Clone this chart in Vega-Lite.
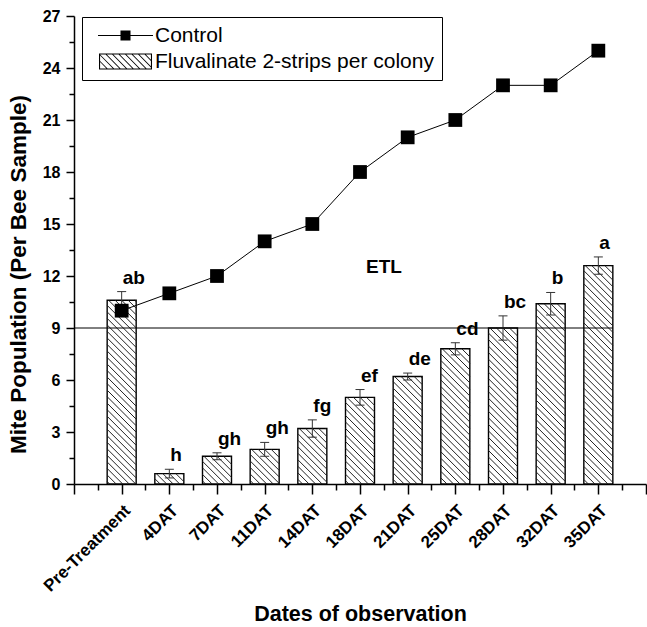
{
  "$schema": "https://vega.github.io/schema/vega-lite/v6.json",
  "width": 572,
  "height": 468,
  "autosize": "none",
  "padding": {"left": 74, "top": 16, "right": 1, "bottom": 143},
  "background": "white",
  "config": {
    "view": {"stroke": null},
    "font": "Liberation Sans",
    "axis": {"grid": false, "domainColor": "black", "tickColor": "black", "labelColor": "black", "titleColor": "black", "labelFont": "Liberation Sans", "titleFont": "Liberation Sans"}
  },
  "datasets": {
    "treatment": [
      {"date": "Pre-Treatment", "mean": 10.6, "lower": 10.1, "upper": 11.1, "letter": "ab"},
      {"date": "4DAT", "mean": 0.6, "lower": 0.35, "upper": 0.85, "letter": "h"},
      {"date": "7DAT", "mean": 1.6, "lower": 1.4, "upper": 1.8, "letter": "gh"},
      {"date": "11DAT", "mean": 2.0, "lower": 1.6, "upper": 2.4, "letter": "gh"},
      {"date": "14DAT", "mean": 3.2, "lower": 2.7, "upper": 3.7, "letter": "fg"},
      {"date": "18DAT", "mean": 5.0, "lower": 4.55, "upper": 5.45, "letter": "ef"},
      {"date": "21DAT", "mean": 6.2, "lower": 6.0, "upper": 6.4, "letter": "de"},
      {"date": "25DAT", "mean": 7.8, "lower": 7.45, "upper": 8.15, "letter": "cd"},
      {"date": "28DAT", "mean": 9.0, "lower": 8.3, "upper": 9.7, "letter": "bc"},
      {"date": "32DAT", "mean": 10.4, "lower": 9.75, "upper": 11.05, "letter": "b"},
      {"date": "35DAT", "mean": 12.6, "lower": 12.1, "upper": 13.1, "letter": "a"}
    ],
    "control": [
      {"date": "Pre-Treatment", "value": 10, "series": "Control"},
      {"date": "4DAT", "value": 11, "series": "Control"},
      {"date": "7DAT", "value": 12, "series": "Control"},
      {"date": "11DAT", "value": 14, "series": "Control"},
      {"date": "14DAT", "value": 15, "series": "Control"},
      {"date": "18DAT", "value": 18, "series": "Control"},
      {"date": "21DAT", "value": 20, "series": "Control"},
      {"date": "25DAT", "value": 21, "series": "Control"},
      {"date": "28DAT", "value": 23, "series": "Control"},
      {"date": "32DAT", "value": 23, "series": "Control"},
      {"date": "35DAT", "value": 25, "series": "Control"}
    ]
  },
  "layer": [
    {
      "data": {"name": "control"},
      "mark": {"type": "point", "fill": "black", "stroke": "black", "strokeWidth": 1, "opacity": 0},
      "encoding": {
        "x": {"field": "date", "type": "ordinal", "axis": null,
          "scale": {"type": "point", "domain": [" ", "Pre-Treatment", "4DAT", "7DAT", "11DAT", "14DAT", "18DAT", "21DAT", "25DAT", "28DAT", "32DAT", "35DAT", "-"], "padding": 0}},
        "y": {"field": "value", "type": "quantitative", "axis": null, "scale": {"domain": [0, 27], "nice": false, "zero": true}},
        "shape": {"field": "series", "type": "nominal",
          "scale": {"domain": ["Control", "Fluvalinate 2-strips per colony"],
            "range": ["M-3.235,-0.06L3.235,-0.06L3.235,0.06L-3.235,0.06ZM-0.59,-0.59L0.59,-0.59L0.59,0.59L-0.59,0.59Z",
              "M-3.12,-0.94L3.12,-0.94L3.12,0.94L-3.12,0.94ZM-2.99,-0.81L-2.99,0.81L2.99,0.81L2.99,-0.81ZM-2.99,0.07L-2.25,0.81L-2.11,0.81L-2.99,-0.07ZM-2.99,-0.695L-1.485,0.81L-1.345,0.81L-2.99,-0.835ZM-2.34,-0.81L-0.72,0.81L-0.58,0.81L-2.2,-0.81ZM-1.575,-0.81L0.045,0.81L0.185,0.81L-1.435,-0.81ZM-0.81,-0.81L0.81,0.81L0.95,0.81L-0.67,-0.81ZM-0.045,-0.81L1.575,0.81L1.715,0.81L0.095,-0.81ZM0.72,-0.81L2.34,0.81L2.48,0.81L0.86,-0.81ZM1.485,-0.81L2.99,0.695L2.99,0.555L1.625,-0.81ZM2.25,-0.81L2.99,-0.07L2.99,-0.21L2.39,-0.81Z"]},
          "legend": {"title": null, "orient": "none", "legendX": 8, "legendY": 1, "padding": 8,
            "strokeColor": "black", "symbolSize": 289, "symbolStrokeWidth": 1, "symbolOpacity": 1,
            "symbolFillColor": "black", "symbolStrokeColor": "black",
            "symbolOffset": 25, "labelOffset": 19, "rowPadding": 4,
            "labelFontSize": 21, "labelFont": "Liberation Sans", "labelColor": "black", "labelLimit": 600,
            "encode": {
              "legend": {"update": {"stroke": {"value": "black"}, "strokeWidth": {"value": 1.3}, "width": {"value": 384}}}}}}
      }
    },
    {
      "data": {"name": "treatment"},
      "mark": {"type": "bar", "size": 29, "fill": "white", "stroke": "black", "strokeWidth": 1.4},
      "encoding": {
        "x": {"field": "date", "type": "ordinal",
          "scale": {"type": "point", "domain": [" ", "Pre-Treatment", "4DAT", "7DAT", "11DAT", "14DAT", "18DAT", "21DAT", "25DAT", "28DAT", "32DAT", "35DAT", "-"], "padding": 0},
          "axis": {"orient": "bottom", "title": "Dates of observation", "titleFontSize": 21.5, "titleFontWeight": "bold", "titleBaseline": "alphabetic", "titleY": 136,
            "labelAngle": -45, "labelAlign": "right", "labelBaseline": "top", "labelFontSize": 17, "labelFontWeight": "bold", "labelPadding": 8, "labelOverlap": false,
            "tickSize": 10, "tickWidth": 1.5, "domainWidth": 1.5}},
        "y": {"field": "mean", "type": "quantitative",
          "scale": {"domain": [0, 27], "nice": false, "zero": true},
          "axis": {"orient": "left", "title": "Mite Population (Per Bee Sample)", "titleFontSize": 22.5, "titleFontWeight": "bold",
            "titleX": -56, "titleY": 258, "titleAngle": 270, "titleAlign": "center", "titleBaseline": "middle",
            "values": [0, 3, 6, 9, 12, 15, 18, 21, 24, 27], "labelFontSize": 16, "labelFontWeight": "bold", "labelPadding": 6,
            "tickSize": 8, "tickWidth": 1.5, "domainWidth": 1.5}}
      }
    },
    {
      "data": {"name": "treatment"},
      "mark": {"type": "point", "shape": "M0.9,0L1,0.1M0.45,0L1,0.55M0,0L1,1M-0.45,0L1,1.45M-0.9,0L1,1.9M-1,0.35L1,2.35M-1,0.8L1,2.8M-1,1.25L1,3.25M-1,1.7L1,3.7M-1,2.15L1,4.15M-1,2.6L1,4.6M-1,3.05L1,5.05M-1,3.5L1,5.5M-1,3.95L1,5.95M-1,4.4L1,6.4M-1,4.85L1,6.85M-1,5.3L1,7.3M-1,5.75L1,7.75M-1,6.2L1,8.2M-1,6.65L1,8.65M-1,7.1L1,9.1M-1,7.55L1,9.55M-1,8L1,10M-1,8.45L1,10.45M-1,8.9L1,10.9M-1,9.35L1,11.35M-1,9.8L1,11.8M-1,10.25L1,12.25M-1,10.7L1,12.7M-1,11.15L1,13.15M-1,11.6L1,13.6M-1,12.05L1,14.05M-1,12.5L1,14.5M-1,12.95L1,14.95M-1,13.4L1,15.4M-1,13.85L1,15.85M-1,14.3L1,16.3M-1,14.75L1,16.75",
        "size": 841, "filled": false, "stroke": "#222222", "strokeWidth": 1, "opacity": 1, "clip": true},
      "encoding": {
        "x": {"field": "date", "type": "ordinal",
          "scale": {"type": "point", "domain": [" ", "Pre-Treatment", "4DAT", "7DAT", "11DAT", "14DAT", "18DAT", "21DAT", "25DAT", "28DAT", "32DAT", "35DAT", "-"], "padding": 0},
          "axis": {"orient": "bottom", "title": null, "labels": false, "domain": false, "tickSize": 6, "tickWidth": 1.5, "tickOffset": 23.83}},
        "y": {"field": "mean", "type": "quantitative",
          "scale": {"domain": [0, 27], "nice": false, "zero": true},
          "axis": {"orient": "left", "title": null, "labels": false, "domain": false, "tickSize": 5, "tickWidth": 1.5,
            "values": [1.5, 4.5, 7.5, 10.5, 13.5, 16.5, 19.5, 22.5, 25.5]}}
      }
    },
    {
      "data": {"name": "treatment"},
      "mark": {"type": "rule", "stroke": "#333333", "strokeWidth": 1},
      "encoding": {
        "x": {"field": "date", "type": "ordinal", "axis": null},
        "y": {"field": "lower", "type": "quantitative", "axis": null},
        "y2": {"field": "upper"}
      }
    },
    {
      "data": {"name": "treatment"},
      "mark": {"type": "tick", "size": 9, "thickness": 1, "color": "#333333", "opacity": 1},
      "encoding": {
        "x": {"field": "date", "type": "ordinal", "axis": null},
        "y": {"field": "upper", "type": "quantitative", "axis": null}
      }
    },
    {
      "data": {"name": "treatment"},
      "mark": {"type": "tick", "size": 9, "thickness": 1, "color": "#333333", "opacity": 1},
      "encoding": {
        "x": {"field": "date", "type": "ordinal", "axis": null},
        "y": {"field": "lower", "type": "quantitative", "axis": null}
      }
    },
    {
      "data": {"values": [{}]},
      "mark": {"type": "rule", "color": "black", "strokeWidth": 1, "x2Offset": 14.5},
      "encoding": {
        "x": {"datum": " ", "type": "ordinal", "axis": null},
        "x2": {"datum": "35DAT"},
        "y": {"datum": 9, "type": "quantitative", "axis": null}
      }
    },
    {
      "data": {"name": "control"},
      "mark": {"type": "line", "color": "black", "strokeWidth": 1},
      "encoding": {
        "x": {"field": "date", "type": "ordinal", "axis": null},
        "y": {"field": "value", "type": "quantitative", "axis": null},
        "order": {"value": null}
      }
    },
    {
      "data": {"name": "control"},
      "mark": {"type": "point", "shape": "square", "filled": true, "size": 190, "color": "black", "opacity": 1},
      "encoding": {
        "x": {"field": "date", "type": "ordinal", "axis": null},
        "y": {"field": "value", "type": "quantitative", "axis": null}
      }
    },
    {
      "data": {"name": "treatment"},
      "mark": {"type": "text", "align": "left", "baseline": "alphabetic", "dx": 1, "dy": -8, "fontSize": 19, "fontWeight": "bold", "color": "black"},
      "encoding": {
        "x": {"field": "date", "type": "ordinal", "axis": null},
        "y": {"field": "upper", "type": "quantitative", "axis": null},
        "text": {"field": "letter"}
      }
    },
    {
      "data": {"values": [{}]},
      "mark": {"type": "text", "text": "ETL", "align": "center", "baseline": "alphabetic", "dx": 24, "fontSize": 19, "fontWeight": "bold", "color": "black"},
      "encoding": {
        "x": {"datum": "18DAT", "type": "ordinal", "axis": null},
        "y": {"datum": 12.2, "type": "quantitative", "axis": null}
      }
    }
  ],
  "resolve": {"axis": {"x": "independent", "y": "independent"}}
}
